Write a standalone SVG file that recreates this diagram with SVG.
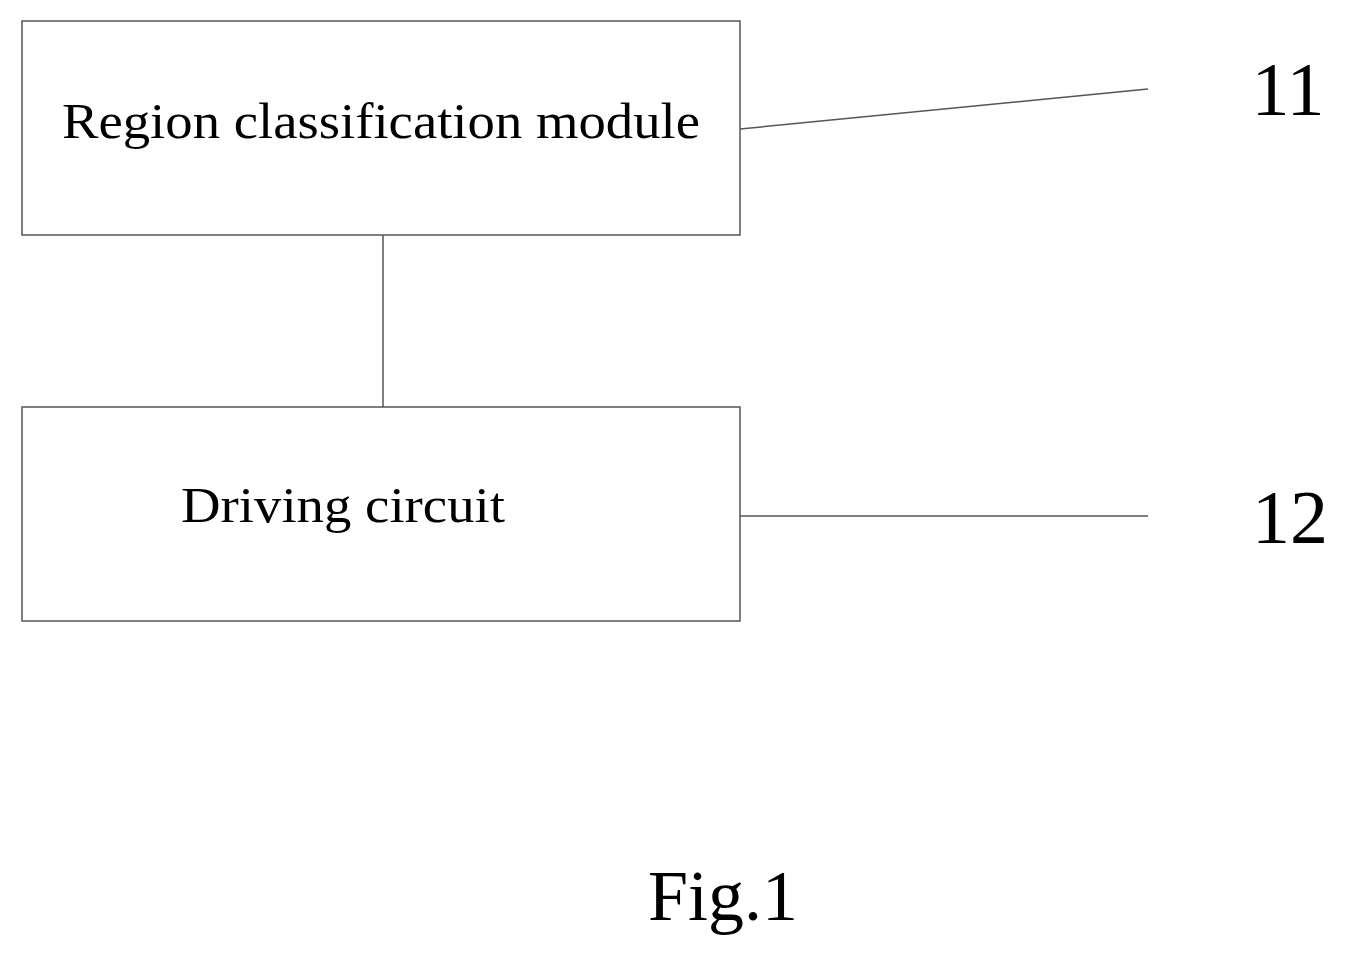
<svg xmlns="http://www.w3.org/2000/svg" width="1348" height="958" viewBox="0 0 1348 958">
<style>
.box{fill:#fff;stroke:#555;stroke-width:1.5}
.ln{stroke:#555;stroke-width:1.5;fill:none}
.t{font-family:"Liberation Serif",serif;fill:#000}
</style>
<rect width="1348" height="958" fill="#fff"/>
<g id="node11">
<rect class="box" x="22" y="21" width="718" height="214"/>
<text class="t" x="62" y="138" font-size="50" textLength="638" lengthAdjust="spacingAndGlyphs">Region classification module</text>
</g>
<g id="node12">
<rect class="box" x="22" y="407" width="718" height="214"/>
<text class="t" x="181" y="522" font-size="50" textLength="324" lengthAdjust="spacingAndGlyphs">Driving circuit</text>
</g>
<g id="connectors">
<line class="ln" x1="740" y1="129" x2="1148" y2="89"/>
<line class="ln" x1="383" y1="235" x2="383" y2="407"/>
<line class="ln" x1="740" y1="516" x2="1148" y2="516"/>
</g>
<text class="t" x="1288" y="115" font-size="76" text-anchor="middle">11</text>
<text class="t" x="1290" y="543" font-size="76" text-anchor="middle">12</text>
<text class="t" x="723" y="920" font-size="72" text-anchor="middle">Fig.1</text>
</svg>
